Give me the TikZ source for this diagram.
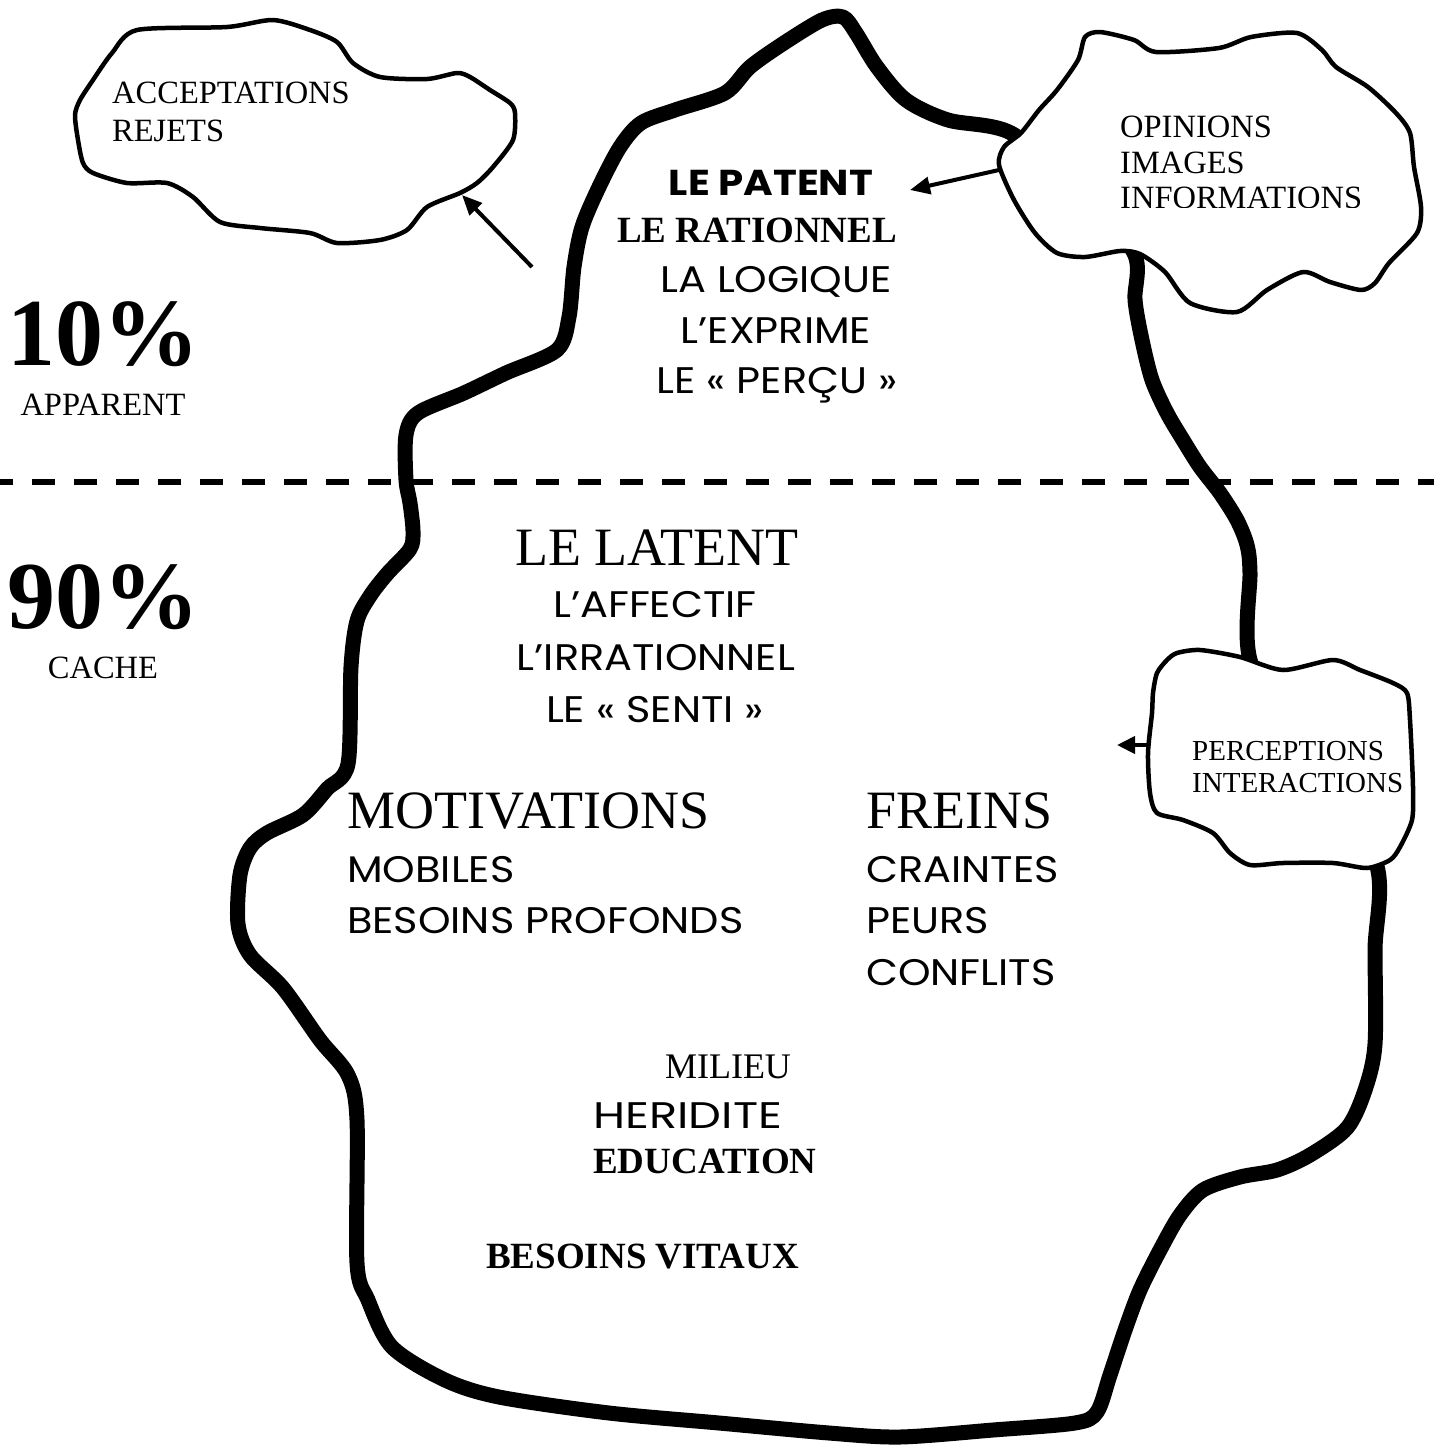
\documentclass[tikz,border=0pt]{standalone}
\usepackage{fontspec}
\setmainfont{Liberation Serif}
\newfontfamily\comicfont[FakeStretch=1.12]{Poppins}
\usetikzlibrary{arrows.meta}

\begin{document}
\begin{tikzpicture}[x=1pt,y=-1pt,line join=round,
  berg/.style={line width=15pt},
  cloudline/.style={line width=4.5pt,fill=white},
  ptr/.style={line width=4pt,-{Triangle[length=20pt,width=17pt]}},
  waterline/.style={line width=6pt,dash pattern=on 23pt off 19pt,dash phase=10pt},
  txt/.style={inner sep=0pt,anchor=base west},
  ctxt/.style={inner sep=0pt,anchor=base},
  small/.style={font=\fontsize{32.5}{36}\selectfont},
  smaller/.style={font=\fontsize{29}{33}\selectfont},
  big/.style={font=\fontsize{54}{60}\selectfont},
  huge/.style={font=\bfseries\fontsize{96}{100}\selectfont},
  mid/.style={font=\fontsize{36}{40}\selectfont},
  midbold/.style={font=\bfseries\fontsize{37}{40}\selectfont},
  hand/.style={font=\comicfont\fontsize{37}{40}\selectfont},
  handbold/.style={font=\comicfont\bfseries\fontsize{36}{40}\selectfont}]

\useasboundingbox (0,0) rectangle (1434,1448);
\fill[white] (0,0) rectangle (1434,1448);

% water line
\draw[waterline] (0,482) -- (1434,482);

% iceberg outline
\draw[berg] plot[smooth cycle,tension=0.5] coordinates {
  (1011,133) (948,120) (906,100) (877,67) (856,33) (843,17) (822,20)
  (784,43) (750,67) (725,93) (675,110) (641,123) (620,147) (599,187)
  (582,227) (574,267) (569,317) (557,350) (506,373) (464,393) (418,413)
  (406,435) (406,480) (410,503) (413,531) (410,549) (387,574) (370,596)
  (357,621) (351,667) (348,764) (327,789) (303,815) (267,833) (250,848)
  (240,875) (238,924) (250,955) (283,988) (320,1040) (348,1075)
  (357,1120) (357,1263) (368,1300) (392,1347) (445,1380) (499,1397)
  (609,1413) (719,1423) (829,1433) (900,1437) (993,1430) (1075,1423)
  (1097,1412) (1110,1375) (1125,1330) (1140,1290) (1160,1250)
  (1180,1215) (1203,1190) (1240,1177) (1277,1170) (1310,1155)
  (1347,1128) (1365,1090) (1375,1044) (1375,950) (1375,860)
  (1300,760) (1250,660) (1250,573) (1247,545) (1237,520) (1220,493)
  (1200,467) (1183,440) (1167,413) (1152,380) (1142,340) (1135,300)
  (1134,253) (1080,190)};

% cloud: acceptations / rejets
\draw[cloudline] plot[smooth cycle,tension=0.45] coordinates {
  (93,80) (80,100) (75,115) (78,140) (83,163) (93,173) (127,183)
  (167,183) (193,197) (220,222) (260,228) (310,233) (337,243) (380,240)
  (407,230) (427,207) (460,193) (477,183) (493,167) (513,140) (515,113)
  (510,103) (490,90) (470,77) (457,73) (427,79) (380,77) (353,63)
  (337,42) (310,30) (273,20) (227,27) (137,30) (112,53)};

% cloud: opinions / images / informations
\draw[cloudline] plot[smooth cycle,tension=0.45] coordinates {
  (1085,37) (1100,32) (1134,40) (1156,52) (1219,48) (1251,37) (1297,33)
  (1322,50) (1336,67) (1368,87) (1396,113) (1410,133) (1414,167)
  (1421,207) (1417,233) (1389,263) (1375,283) (1361,290) (1330,282)
  (1303,272) (1267,290) (1237,312) (1190,303) (1165,272) (1140,254)
  (1120,251) (1085,257) (1057,253) (1035,233) (1014,200) (999,165)
  (1004,147) (1021,133) (1039,110) (1057,90) (1078,60)};

% cloud: perceptions / interactions
\draw[cloudline] plot[smooth cycle,tension=0.45] coordinates {
  (1167,660) (1177,653) (1200,650) (1240,657) (1283,670) (1333,660)
  (1360,670) (1393,683) (1407,693) (1410,720) (1413,787) (1412,820)
  (1400,847) (1390,860) (1367,868) (1333,863) (1283,863) (1250,865)
  (1230,853) (1213,833) (1183,820) (1157,813) (1150,793) (1148,753)
  (1152,713) (1153,693) (1157,673)};

% cloud texts
\node[txt,small] (acc) at (112,103) {ACCEPTATIONS};
\node[txt,small] (rej) at (112,141) {REJETS};
\node[txt,small] (opi) at (1120,137) {OPINIONS};
\node[txt,small] (img) at (1120,173) {IMAGES};
\begin{scope}
  \clip (1100,180) rectangle (1400,207);
  \node[txt,small] (inf) at (1120,208) {INFORMATIONS};
\end{scope}
\node[txt,smaller] (per) at (1192,760) {PERCEPTIONS};
\node[txt,smaller] (inter) at (1192,792) {INTERACTIONS};

% proportions
\node[ctxt,huge] (ten) at (103,365) {10\%};
\node[ctxt,small] (app) at (103,415) {APPARENT};
\node[ctxt,huge] (ninety) at (103,628) {90\%};
\node[ctxt,small] (cache) at (103,678) {CACHE};

% visible part
\node[ctxt,handbold] (patent) at (771,195) {LE PATENT};
\node[ctxt,midbold] (rat) at (757,242) {LE RATIONNEL};
\node[ctxt,hand] (logique) at (776,292) {LA LOGIQUE};
\node[ctxt,hand] (exprime) at (776,343) {L’EXPRIME};
\node[ctxt,hand] (percu) at (777,393) {LE « PERÇU »};

% hidden part
\node[ctxt,big] (latent) at (657,565) {LE LATENT};
\node[ctxt,hand] (affectif) at (655,617) {L’AFFECTIF};
\node[ctxt,hand] (irrat) at (656,670) {L’IRRATIONNEL};
\node[ctxt,hand] (senti) at (655,722) {LE « SENTI »};

\node[txt,big] (motiv) at (347,828) {MOTIVATIONS};
\node[txt,hand] (mobiles) at (347,882) {MOBILES};
\node[txt,hand] (besoins) at (347,933) {BESOINS PROFONDS};

\node[txt,big] (freins) at (866,828) {FREINS};
\node[txt,hand] (craintes) at (866,882) {CRAINTES};
\node[txt,hand] (peurs) at (866,933) {PEURS};
\node[txt,hand] (conflits) at (866,985) {CONFLITS};

\node[ctxt,mid] (milieu) at (728,1078) {MILIEU};
\node[txt,hand] (heridite) at (593,1128) {\scalebox{1.12}[1]{HERIDITE}};
\node[txt,midbold] (education) at (593,1173) {EDUCATION};
\node[txt,midbold] (vitaux) at (486,1268) {BESOINS VITAUX};

% arrows
\coordinate (accFrom) at (532,267);
\coordinate (accTo) at (462,195);
\draw[ptr] (accFrom) -- (accTo);
\coordinate (opiFrom) at (999,170);
\coordinate (patTip) at (910,190);
\draw[ptr] (opiFrom) -- (patTip);
\coordinate (perFrom) at (1149,745);
\coordinate (perTip) at (1117,745);
\draw[line width=4pt,-{Triangle[length=18pt,width=17pt]}] (perFrom) -- (perTip);
\end{tikzpicture}
\end{document}
